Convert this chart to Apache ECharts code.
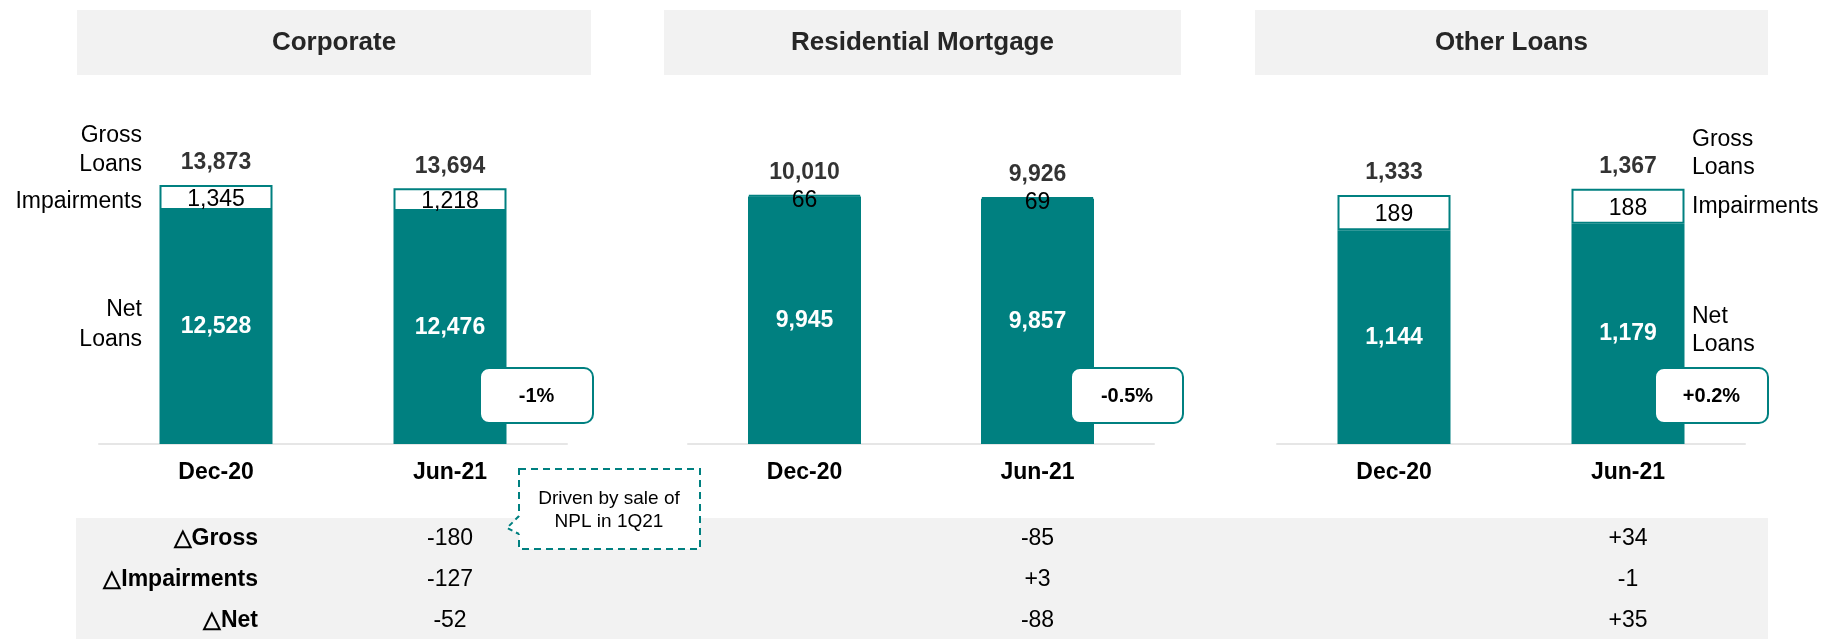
<!DOCTYPE html>
<html>
<head>
<meta charset="utf-8">
<script src="https://cdn.jsdelivr.net/npm/echarts@6/dist/echarts.min.js"></script>
<style>
html,body{margin:0;padding:0;background:#fff;}
#chart{width:1827px;height:639px;}
</style>
</head>
<body>
<div id="chart"></div>
<script>
// ---------- DATA ----------
const categories = ['Dec-20', 'Jun-21'];
const panelTitles = ['Corporate', 'Residential Mortgage', 'Other Loans'];

const corporateNet = [12528, 12476];
const corporateImpairments = [1345, 1218];
const corporateGross = [13873, 13694];

const residentialNet = [9945, 9857];
const residentialImpairments = [66, 69];
const residentialGross = [10010, 9926];

const otherNet = [1144, 1179];
const otherImpairments = [189, 188];
const otherGross = [1333, 1367];

const netChangePct = ['-1%', '-0.5%', '+0.2%'];

const deltaRowLabels = ['\u25B3Gross', '\u25B3Impairments', '\u25B3Net'];
const deltaGross = ['-180', '-85', '+34'];
const deltaImpairments = ['-127', '+3', '-1'];
const deltaNet = ['-52', '-88', '+35'];

const calloutLines = ['Driven by sale of', 'NPL in 1Q21'];
const leftSideLabels = ['Gross\nLoans', 'Impairments', 'Net\nLoans'];
const rightSideLabels = ['Gross\nLoans', 'Impairments', 'Net\nLoans'];

// ---------- STYLE / LAYOUT ----------
const TEAL = '#008080';
const FONT = '"Liberation Sans", Arial, Helvetica, sans-serif';
const panels = [
  { net: corporateNet, imp: corporateImpairments, gross: corporateGross, left: 99, width: 468, yMax: 17355, impOffset: 2 },
  { net: residentialNet, imp: residentialImpairments, gross: residentialGross, left: 688, width: 466, yMax: 13025, impOffset: 5 },
  { net: otherNet, imp: otherImpairments, gross: otherGross, left: 1277, width: 468, yMax: 1735, impOffset: 2 }
];
const headerBoxes = [[77, 591], [664, 1181], [1255, 1768]];
const pctBoxes = [[480, 593], [1071, 1183], [1655, 1768]];
const fmt = v => Number(v).toLocaleString('en-US');

const grid = [], xAxis = [], yAxis = [], series = [];
panels.forEach((p, i) => {
  grid.push({ left: p.left, width: p.width, top: 120, height: 324, containLabel: false });
  xAxis.push({
    type: 'category', gridIndex: i, data: categories,
    axisLine: { show: true, lineStyle: { color: '#E6E6E6', width: 2 } },
    axisTick: { show: false },
    axisLabel: { color: '#000', fontWeight: 'bold', fontSize: 23, fontFamily: FONT, margin: 17 }
  });
  yAxis.push({ type: 'value', gridIndex: i, min: 0, max: p.yMax, show: false, splitLine: { show: false } });
  series.push({
    type: 'bar', xAxisIndex: i, yAxisIndex: i, stack: 's' + i, barWidth: 113,
    data: p.net, itemStyle: { color: TEAL },
    label: { show: true, position: 'inside', color: '#fff', fontWeight: 'bold', fontSize: 23, fontFamily: FONT, formatter: d => fmt(d.value) },
    silent: true, animation: false
  });
  series.push({
    type: 'bar', xAxisIndex: i, yAxisIndex: i, stack: 's' + i, barWidth: 113,
    data: p.imp, itemStyle: { color: '#fff', borderColor: TEAL, borderWidth: 2 },
    label: { show: true, position: 'inside', offset: [0, p.impOffset], color: '#000', fontSize: 23, fontFamily: FONT, formatter: d => fmt(d.value) },
    silent: true, animation: false
  });
  series.push({
    type: 'scatter', xAxisIndex: i, yAxisIndex: i, symbolSize: 1,
    itemStyle: { color: 'rgba(0,0,0,0)' },
    data: p.gross,
    label: { show: true, position: 'top', distance: 10, color: '#000', fontWeight: 'bold', fontSize: 23, fontFamily: FONT, formatter: d => fmt(d.value) },
    silent: true, animation: false
  });
});

const chart = echarts.init(document.getElementById('chart'), null, { renderer: 'canvas' });
chart.setOption({ animation: false, grid, xAxis, yAxis, series });

// ---------- ANNOTATIONS ----------
const g = [];
// table band
g.push({ type: 'rect', shape: { x: 76, y: 518, width: 1692, height: 121 }, style: { fill: '#F2F2F2' }, z: -10 });
// headers
headerBoxes.forEach((b, i) => {
  g.push({ type: 'rect', shape: { x: b[0], y: 10, width: b[1] - b[0], height: 65 }, style: { fill: '#F2F2F2' }, z: -10 });
  g.push({ type: 'text', x: (b[0] + b[1]) / 2, y: 43, style: { text: panelTitles[i], fill: '#262626', font: 'bold 26px ' + FONT, textAlign: 'center', textVerticalAlign: 'middle' } });
});
// side labels
const leftYs = [[150, 29], [202, 29], [325, 30]];
leftSideLabels.forEach((t, k) => {
  g.push({ type: 'text', x: 142, y: leftYs[k][0], style: { text: t, fill: '#000', font: '23px ' + FONT, lineHeight: leftYs[k][1], textAlign: 'right', textVerticalAlign: 'middle' } });
});
const rightYs = [[154, 28], [207, 28], [331, 28]];
rightSideLabels.forEach((t, k) => {
  g.push({ type: 'text', x: 1692, y: rightYs[k][0], style: { text: t, fill: '#000', font: '23px ' + FONT, lineHeight: rightYs[k][1], textAlign: 'left', textVerticalAlign: 'middle' } });
});
// percent boxes
pctBoxes.forEach((b, i) => {
  g.push({ type: 'rect', z: 50, shape: { x: b[0], y: 368, width: b[1] - b[0], height: 55, r: 9 }, style: { fill: '#fff', stroke: TEAL, lineWidth: 2 } });
  g.push({ type: 'text', z: 51, x: (b[0] + b[1]) / 2, y: 396, style: { text: netChangePct[i], fill: '#000', font: 'bold 20px ' + FONT, textAlign: 'center', textVerticalAlign: 'middle' } });
});
// delta table
const rowYs = [539, 580, 621];
deltaRowLabels.forEach((t, k) => {
  g.push({ type: 'text', x: 258, y: rowYs[k], style: { text: t, fill: '#000', font: 'bold 23px ' + FONT, textAlign: 'right', textVerticalAlign: 'middle' } });
});
const deltaRows = [deltaGross, deltaImpairments, deltaNet];
panels.forEach((p, i) => {
  const px = chart.convertToPixel({ xAxisIndex: i }, categories[1]);
  deltaRows.forEach((row, k) => {
    g.push({ type: 'text', x: px, y: rowYs[k], style: { text: row[i], fill: '#000', font: '23px ' + FONT, textAlign: 'center', textVerticalAlign: 'middle' } });
  });
});
// callout
g.push({ type: 'rect', z: 60, shape: { x: 519, y: 469, width: 181, height: 80 }, style: { fill: '#fff', stroke: TEAL, lineWidth: 2, lineDash: [7, 5] } });
g.push({ type: 'polygon', z: 61, shape: { points: [[521, 515], [507, 528], [521, 535]] }, style: { fill: '#fff' } });
g.push({ type: 'polyline', z: 62, shape: { points: [[519, 516], [507, 528], [519, 534]] }, style: { stroke: TEAL, lineWidth: 2, lineDash: [5, 4], fill: null } });
g.push({ type: 'text', z: 63, x: 609, y: 510, style: { text: calloutLines.join('\n'), fill: '#000', font: '19px ' + FONT, lineHeight: 23, textAlign: 'center', textVerticalAlign: 'middle' } });

chart.setOption({ graphic: g });
</script>
</body>
</html>
